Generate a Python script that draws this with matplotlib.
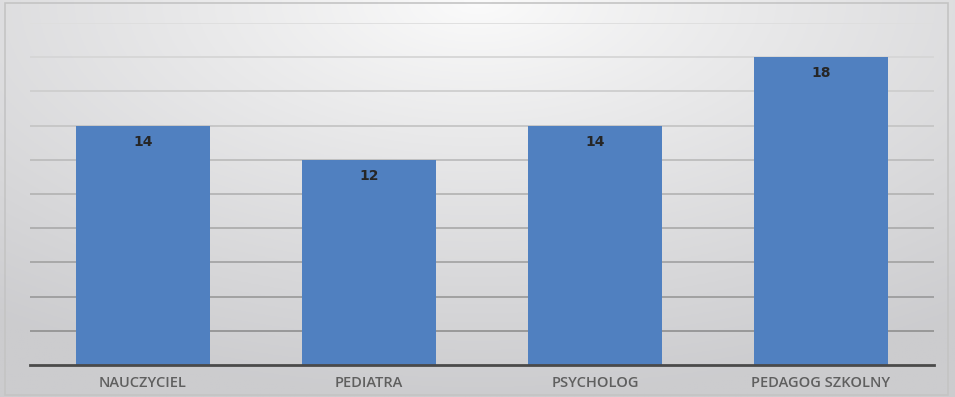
import numpy as np
import matplotlib
matplotlib.use("Agg")
import matplotlib.pyplot as plt
from matplotlib.patches import Rectangle

categories = ["NAUCZYCIEL", "PEDIATRA", "PSYCHOLOG", "PEDAGOG SZKOLNY"]
values = [14, 12, 14, 18]
grid_ticks = list(range(0, 21, 2))

W, H = 955, 397
fig = plt.figure(figsize=(W / 100, H / 100), dpi=100)

# background gradient
bg = fig.add_axes([0, 0, 1, 1])
bg.set_axis_off()
yy, xx = np.mgrid[0:1:200j, 0:1:400j]
d = np.sqrt(((xx - 0.5) / 0.85) ** 2 + ((yy - 0.0) / 1.0) ** 2)
d = np.clip(d, 0, 1) ** 0.9
light = np.array([0.985, 0.985, 0.985])
dark = np.array([0.80, 0.80, 0.81])
img = light[None, None, :] * (1 - d[..., None]) + dark[None, None, :] * d[..., None]
bg.imshow(img, extent=[0, 1, 0, 1], origin="upper", aspect="auto")
bg.add_patch(Rectangle((5 / W, 2 / H), 943 / W, 392 / H, fill=False,
                       edgecolor="#c4c4c4", lw=1.2, transform=bg.transAxes))
bg.set_xlim(0, 1)
bg.set_ylim(0, 1)

ax = fig.add_axes([30 / W, 32 / H, 904 / W, 342 / H])
ax.patch.set_alpha(0)
x = np.arange(len(categories))
bars = ax.bar(x, values, width=0.593, color="#5080c0", zorder=3)
ax.set_xlim(-0.5, len(categories) - 0.5)
ax.set_ylim(0, 20)
# gridlines: lighter towards the top, as in the reference
for t in grid_ticks[1:]:
    f = t / 20.0
    g = 0.55 + 0.32 * f
    ax.axhline(t, color=(g, g, g), lw=1.3, zorder=0)
ax.set_yticks([])
ax.tick_params(axis="x", length=0, pad=8)
ax.set_xticks(x)
ax.set_xticklabels(categories, fontsize=10.5, color="#5f5f5f",
                   family="Open Sans", fontweight="semibold")
for s in ["top", "right", "left"]:
    ax.spines[s].set_visible(False)
ax.spines["bottom"].set_color("#4a4a4a")
ax.spines["bottom"].set_linewidth(2)
ax.spines["bottom"].set_zorder(4)

for xi, v in zip(x, values):
    ax.annotate(str(v), (xi, v), xytext=(0, -16), textcoords="offset pixels",
                ha="center", va="center", fontsize=10, fontweight="bold",
                family="DejaVu Sans", color="#262626", zorder=5)

fig.savefig("out.png", dpi=100)
